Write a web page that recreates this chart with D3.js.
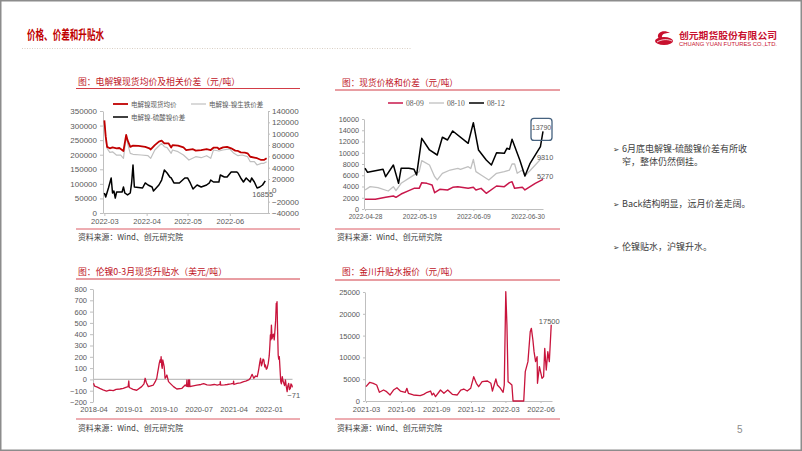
<!DOCTYPE html>
<html><head><meta charset="utf-8">
<script src="https://cdn.jsdelivr.net/npm/d3@7"></script>
<style>html,body{margin:0;padding:0;background:#fff;}svg{display:block;}</style>
</head><body>
<svg id="s" width="802" height="451"></svg>
<script>
// ---------- DATA ----------
// Chart 1: 电解镍现货均价及相关价差（元/吨）
const c1Legend = ["电解镍现货均价", "电解镍-镍生铁价差", "电解镍-硫酸镍价差"];
const c1XTicks = ["2022-03-01","2022-04-01","2022-05-01","2022-06-01"];
const c1LeftTicks = [0,50000,100000,150000,200000,250000,300000,350000];
const c1RightTicks = [-40000,-20000,0,20000,40000,60000,80000,100000,120000,140000];
const c1Price = [["2022-03-01",318000],["2022-03-02",262000],["2022-03-03",227000],["2022-03-05",222000],["2022-03-07",225000],["2022-03-10",222000],["2022-03-12",223000],["2022-03-15",213000],["2022-03-17",268000],["2022-03-18",250000],["2022-03-20",227000],["2022-03-22",231000],["2022-03-26",230000],["2022-03-31",227000],["2022-04-03",222000],["2022-04-04",218000],["2022-04-07",233000],["2022-04-10",245000],["2022-04-12",248000],["2022-04-14",239000],["2022-04-17",239000],["2022-04-19",225000],["2022-04-20",233000],["2022-04-24",231000],["2022-04-28",225000],["2022-04-30",216000],["2022-05-05",219000],["2022-05-07",214000],["2022-05-11",216000],["2022-05-15",219000],["2022-05-18",216000],["2022-05-20",224000],["2022-05-23",224000],["2022-05-24",219000],["2022-05-27",225000],["2022-05-30",227000],["2022-06-02",222000],["2022-06-05",214000],["2022-06-07",213000],["2022-06-09",208000],["2022-06-12",207000],["2022-06-14",205000],["2022-06-16",193000],["2022-06-19",190000],["2022-06-21",188000],["2022-06-24",182000],["2022-06-26",182000],["2022-06-28",188000]];
const c1Npi = [["2022-03-01",121000],["2022-03-02",92000],["2022-03-03",74000],["2022-03-05",67000],["2022-03-07",68000],["2022-03-10",62000],["2022-03-13",62000],["2022-03-15",56500],["2022-03-17",94600],["2022-03-18",83000],["2022-03-20",65300],["2022-03-22",63600],["2022-03-28",62400],["2022-04-02",61100],["2022-04-04",56500],["2022-04-07",71200],["2022-04-12",83000],["2022-04-14",77000],["2022-04-16",75300],["2022-04-19",65300],["2022-04-20",71200],["2022-04-24",68200],["2022-04-28",62400],["2022-05-02",53500],["2022-05-07",59400],["2022-05-11",57600],["2022-05-15",61100],["2022-05-18",56500],["2022-05-20",71200],["2022-05-24",69400],["2022-05-27",71200],["2022-06-01",73000],["2022-06-04",65300],["2022-06-07",61100],["2022-06-10",62400],["2022-06-14",59400],["2022-06-16",50500],["2022-06-19",50500],["2022-06-21",44700],["2022-06-24",47600],["2022-06-26",47600],["2022-06-28",50500]];
const c1Sul = [["2022-03-01",-4700],["2022-03-02",-11800],["2022-03-04",4100],["2022-03-06",21800],["2022-03-07",-4700],["2022-03-08",-1200],["2022-03-09",-13500],["2022-03-10",-2900],["2022-03-14",-2900],["2022-03-15",5900],["2022-03-16",-4700],["2022-03-18",-8200],["2022-03-20",-4700],["2022-03-21",13000],["2022-03-22",44700],["2022-03-23",5900],["2022-03-29",4100],["2022-03-31",13000],["2022-04-02",9400],["2022-04-05",5900],["2022-04-06",-1200],["2022-04-10",9400],["2022-04-12",18200],["2022-04-14",35900],["2022-04-16",30600],["2022-04-18",23500],["2022-04-19",21800],["2022-04-21",13000],["2022-04-25",13000],["2022-04-29",21800],["2022-05-01",21800],["2022-05-03",13000],["2022-05-05",2400],["2022-05-08",9400],["2022-05-11",5900],["2022-05-15",9400],["2022-05-17",13000],["2022-05-18",18200],["2022-05-20",14700],["2022-05-24",14700],["2022-05-25",27000],["2022-05-28",23500],["2022-05-30",23500],["2022-06-02",32400],["2022-06-06",32400],["2022-06-07",30600],["2022-06-09",21800],["2022-06-11",14700],["2022-06-13",21800],["2022-06-16",14700],["2022-06-17",21800],["2022-06-19",14700],["2022-06-21",4100],["2022-06-23",5900],["2022-06-25",9400],["2022-06-27",16855]];

// Chart 2: 现货价格和价差（元/吨）
const c2Legend = ["08-09","08-10","08-12"];
const c2XTicks = ["2022-04-28","2022-05-19","2022-06-09","2022-06-30"];
const c2YTicks = [0,2000,4000,6000,8000,10000,12000,14000,16000];
const c2S0809 = [["2022-04-28",1720],["2022-05-02",1720],["2022-05-06",2070],["2022-05-09",2310],["2022-05-10",2070],["2022-05-12",2660],["2022-05-15",3260],["2022-05-17",3670],["2022-05-19",3670],["2022-05-20",4680],["2022-05-22",4560],["2022-05-24",4270],["2022-05-25",2900],["2022-05-27",3500],["2022-05-30",3380],["2022-06-01",3850],["2022-06-03",3970],["2022-06-07",3670],["2022-06-09",3850],["2022-06-10",3380],["2022-06-12",3670],["2022-06-14",2790],["2022-06-18",4090],["2022-06-21",3970],["2022-06-23",4680],["2022-06-24",4860],["2022-06-25",3670],["2022-06-28",3850],["2022-06-29",3380],["2022-07-03",4560],["2022-07-06",5270]];
const c2S0810 = [["2022-04-28",3380],["2022-04-30",3970],["2022-05-03",3790],["2022-05-07",3200],["2022-05-09",3970],["2022-05-10",3260],["2022-05-12",4570],["2022-05-16",5750],["2022-05-19",6640],["2022-05-20",8590],["2022-05-23",7820],["2022-05-25",5750],["2022-05-26",5160],["2022-05-28",6350],["2022-05-31",6930],["2022-06-03",7230],["2022-06-04",7050],["2022-06-07",7520],["2022-06-08",7200],["2022-06-09",8830],["2022-06-10",6640],["2022-06-12",6040],["2022-06-15",5160],["2022-06-18",6350],["2022-06-21",6640],["2022-06-23",6930],["2022-06-24",8000],["2022-06-25",8000],["2022-06-26",6350],["2022-06-28",6930],["2022-06-29",5870],["2022-07-03",7820],["2022-07-06",9310]];
const c2S0812 = [["2022-04-28",7240],["2022-04-29",6520],["2022-05-05",7050],["2022-05-06",5750],["2022-05-09",7820],["2022-05-11",4560],["2022-05-12",7230],["2022-05-15",7230],["2022-05-17",7050],["2022-05-18",6040],["2022-05-20",12570],["2022-05-23",10490],["2022-05-26",9600],["2022-05-28",12750],["2022-05-30",12270],["2022-06-01",13870],["2022-06-07",11680],["2022-06-09",15350],["2022-06-11",10490],["2022-06-14",8710],["2022-06-16",7820],["2022-06-18",10010],["2022-06-21",9900],["2022-06-22",10790],["2022-06-23",10610],["2022-06-24",12390],["2022-06-27",8710],["2022-06-29",5870],["2022-07-01",8120],["2022-07-05",11080],["2022-07-06",13790]];

// Chart 3: 伦镍0-3月现货升贴水（美元/吨）
const c3XTicks = ["2018-04-01","2019-01-01","2019-10-01","2020-07-01","2021-04-01","2022-01-01"];
const c3YTicks = [-200,-100,0,100,200,300,400,500,600,700,800];
const c3Spread = [["2018-04-01",-35],["2018-04-10",-60],["2018-05-01",-68],["2018-05-20",-79],["2018-06-15",-92],["2018-07-12",-103],["2018-08-05",-95],["2018-09-03",-100],["2018-09-25",-88],["2018-10-25",-85],["2018-11-20",-80],["2018-12-10",-70],["2018-12-28",-64],["2019-01-02",-14],["2019-01-06",-72],["2019-02-05",-88],["2019-03-05",-96],["2019-04-13",-64],["2019-05-01",-40],["2019-05-10",10],["2019-05-20",-30],["2019-06-04",-64],["2019-07-13",-50],["2019-07-28",-20],["2019-08-09",10],["2019-08-16",60],["2019-08-22",98],["2019-08-28",140],["2019-09-04",172],["2019-09-09",150],["2019-09-12",201],["2019-09-17",120],["2019-09-21",98],["2019-09-25",172],["2019-10-01",140],["2019-10-06",113],["2019-10-13",10],["2019-10-20",20],["2019-10-27",39],["2019-11-09",-20],["2019-11-22",-35],["2019-12-18",-64],["2020-01-13",-85],["2020-02-22",-79],["2020-03-18",-50],["2020-03-28",-60],["2020-04-01",-5],["2020-04-03",-62],["2020-04-12",-64],["2020-04-14",-5],["2020-04-16",-62],["2020-04-22",-5],["2020-04-24",-64],["2020-05-10",-60],["2020-06-18",-50],["2020-07-20",-45],["2020-08-10",-38],["2020-09-05",-48],["2020-10-01",-50],["2020-11-01",-45],["2020-11-24",-50],["2020-12-16",-45],["2020-12-18",-20],["2020-12-21",-50],["2021-01-20",-48],["2021-02-10",-45],["2021-03-10",-40],["2021-03-30",-35],["2021-04-01",-15],["2021-04-04",-45],["2021-04-28",-35],["2021-05-25",-30],["2021-06-19",-20],["2021-07-05",-15],["2021-07-28",-5],["2021-08-10",10],["2021-08-24",45],["2021-09-06",10],["2021-09-20",30],["2021-10-03",24],["2021-10-10",60],["2021-10-16",98],["2021-10-23",150],["2021-10-29",187],["2021-11-05",120],["2021-11-11",142],["2021-11-17",180],["2021-11-24",172],["2021-12-01",110],["2021-12-06",128],["2021-12-13",90],["2021-12-19",98],["2021-12-28",140],["2022-01-05",210],["2022-01-10",300],["2022-01-14",393],["2022-01-18",350],["2022-01-22",481],["2022-01-27",360],["2022-02-02",393],["2022-02-08",400],["2022-02-13",350],["2022-02-18",422],["2022-02-24",520],["2022-03-01",673],["2022-03-04",600],["2022-03-07",688],["2022-03-11",450],["2022-03-16",216],["2022-03-20",180],["2022-03-25",201],["2022-03-30",100],["2022-04-05",-20],["2022-04-10",-40],["2022-04-17",24],["2022-04-22",-10],["2022-04-29",-35],["2022-05-05",-55],["2022-05-12",-5],["2022-05-18",-60],["2022-05-25",-109],["2022-05-30",-60],["2022-06-06",-35],["2022-06-12",-90],["2022-06-19",-79],["2022-06-24",-40],["2022-07-01",-50],["2022-07-05",-71]];

// Chart 4: 金川升贴水报价（元/吨）
const c4XTicks = ["2021-03-01","2021-06-01","2021-09-01","2021-12-01","2022-03-01","2022-06-01"];
const c4YTicks = [0,5000,10000,15000,20000,25000];
const c4Premium = [["2021-03-01",3280],["2021-03-11",4290],["2021-03-20",4060],["2021-03-29",3670],["2021-04-05",2000],["2021-04-16",2520],["2021-04-24",2140],["2021-05-03",1380],["2021-05-12",2520],["2021-05-21",3050],["2021-05-30",2290],["2021-06-12",2000],["2021-06-16",2910],["2021-06-20",1770],["2021-07-03",1380],["2021-07-21",1220],["2021-07-30",1530],["2021-08-08",2000],["2021-08-17",2290],["2021-08-21",1380],["2021-08-25",1770],["2021-08-30",990],["2021-09-12",2520],["2021-09-21",1770],["2021-10-01",2520],["2021-10-13",1530],["2021-10-26",1380],["2021-11-04",2520],["2021-11-12",2750],["2021-11-21",2290],["2021-11-30",2910],["2021-12-08",5580],["2021-12-15",4060],["2021-12-21",3280],["2021-12-30",4430],["2022-01-13",4590],["2022-01-22",4060],["2022-01-26",2290],["2022-02-04",5050],["2022-02-08",3670],["2022-02-16",2910],["2022-02-23",2000],["2022-02-26",3670],["2022-03-02",25070],["2022-03-05",17430],["2022-03-08",4430],["2022-03-13",4060],["2022-03-18",3670],["2022-03-21",0],["2022-04-18",0],["2022-04-22",6720],["2022-04-29",9020],["2022-05-05",15900],["2022-05-08",16670],["2022-05-12",14000],["2022-05-15",11310],["2022-05-19",9020],["2022-05-23",10160],["2022-05-24",4060],["2022-05-29",7870],["2022-06-05",5200],["2022-06-09",5580],["2022-06-12",12090],["2022-06-16",7110],["2022-06-20",11310],["2022-06-24",9020],["2022-06-29",17500]];

const bullets = [["6月底电解镍-硫酸镍价差有所收","窄，整体仍然倒挂。"],["Back结构明显，远月价差走阔。"],["伦镍贴水，沪镍升水。"]];

// ---------- DRAW ----------
const parse = d3.timeParse("%Y-%m-%d");
const svg = d3.select("#s");
const CJK = "'Noto Sans CJK SC','Noto Sans',sans-serif";
const NUM = "'Liberation Sans',Arial,sans-serif";
const SERIF = "'Liberation Serif','Times New Roman',serif";
const AX = "#bfbfbf", LBL = "#595959", RED = "#C00000", CRIMSON = "#C8143C";

svg.append("rect").attr("x",0.75).attr("y",0.75).attr("width",800.5).attr("height",449.5)
  .attr("fill","#fff").attr("stroke","#8c8c8c").attr("stroke-width",1.5);

// header
svg.append("text").attr("x",27).attr("y",38.5).text("价格、价差和升贴水")
  .attr("font-family",CJK).attr("font-weight","bold").attr("font-size",13).attr("fill",RED)
  .attr("textLength",77).attr("lengthAdjust","spacingAndGlyphs");
svg.append("line").attr("x1",22).attr("x2",412).attr("y1",48.5).attr("y2",48.5)
  .attr("stroke","#d9cfc4").attr("stroke-width",1).attr("stroke-dasharray","1,1.5");

// logo
const logo = svg.append("g");
logo.append("ellipse").attr("cx",664).attr("cy",41).attr("rx",9).attr("ry",4).attr("fill","#C8102E");
logo.append("path").attr("d","M670,33 C664,29 657,32 658,37 C659,41 666,42 670,38 C667,40 661,39 662,36 C663,33 667,33 670,33 Z").attr("fill","#C8102E");
logo.append("path").attr("d","M657,42 C662,39 668,39 672,41").attr("stroke","#fff").attr("stroke-width",0.8).attr("fill","none");
logo.append("text").attr("x",679).attr("y",39).text("创元期货股份有限公司")
  .attr("font-family",CJK).attr("font-weight","bold").attr("font-size",9).attr("fill","#C8102E")
  .attr("textLength",98).attr("lengthAdjust","spacingAndGlyphs");
logo.append("text").attr("x",679).attr("y",46).text("CHUANG YUAN FUTURES CO.,LTD.")
  .attr("font-family",NUM).attr("font-size",4.6).attr("fill","#C8102E")
  .attr("textLength",98).attr("lengthAdjust","spacingAndGlyphs");

function frame(x0, x1, titleX, titleY, lineY, title, titleW, botY, srcX, srcY) {
  svg.append("text").attr("x",titleX).attr("y",titleY).text(title)
    .attr("font-family",CJK).attr("font-size",9).attr("fill","#C0141E")
    .attr("textLength",titleW).attr("lengthAdjust","spacingAndGlyphs");
  svg.append("line").attr("x1",x0).attr("x2",x1).attr("y1",lineY).attr("y2",lineY).attr("stroke","#D23C46").attr("stroke-width",1);
  svg.append("line").attr("x1",x0).attr("x2",x1).attr("y1",botY).attr("y2",botY).attr("stroke","#DC5A64").attr("stroke-width",1);
  svg.append("text").attr("x",srcX).attr("y",srcY).text("资料来源：Wind、创元研究院")
    .attr("font-family",CJK).attr("font-size",8).attr("fill","#404040")
    .attr("textLength",105).attr("lengthAdjust","spacingAndGlyphs");
}
function styleAxis(g, fs) {
  g.selectAll("path.domain").attr("stroke",AX);
  g.selectAll(".tick line").attr("stroke",AX);
  g.selectAll(".tick text").attr("fill",LBL).attr("font-size",fs).attr("font-family",NUM);
}
function drawLine(data, x, y, color, w) {
  svg.append("path").datum(data).attr("fill","none").attr("stroke",color).attr("stroke-width",w)
    .attr("stroke-linejoin","round")
    .attr("d", d3.line().x(d=>x(parse(d[0]))).y(d=>y(d[1])));
}
function legendItem(x, y, color, w, label, fs, font) {
  svg.append("line").attr("x1",x).attr("x2",x+15).attr("y1",y).attr("y2",y).attr("stroke",color).attr("stroke-width",w);
  svg.append("text").attr("x",x+18).attr("y",y+2.5).text(label).attr("font-family",font).attr("font-size",fs).attr("fill",LBL);
}
function lbl(x, y, t, anchor) {
  return svg.append("text").attr("x",x).attr("y",y).text(t).attr("font-family",NUM).attr("font-size",7.5)
    .attr("fill",LBL).attr("text-anchor",anchor||"start");
}
const fmt = d3.format("d");

// ---- Chart 1 ----
frame(76,300,78,85,88.5,"图：电解镍现货均价及相关价差（元/吨）",162,229,78,240);
const c1X = d3.scaleTime().domain([parse("2022-02-28"),parse("2022-06-29")]).range([103,268]);
const c1YL = d3.scaleLinear().domain([0,350000]).range([213,111]);
const c1YR = d3.scaleLinear().domain([-40000,140000]).range([213,111]);
styleAxis(svg.append("g").attr("transform","translate(103,0)")
  .call(d3.axisLeft(c1YL).tickValues(c1LeftTicks).tickFormat(fmt).tickSize(3).tickPadding(3).tickSizeOuter(0)),8);
styleAxis(svg.append("g").attr("transform","translate(268,0)")
  .call(d3.axisRight(c1YR).tickValues(c1RightTicks).tickFormat(fmt).tickSize(2).tickPadding(2).tickSizeOuter(0)),8);
styleAxis(svg.append("g").attr("transform","translate(0,213)")
  .call(d3.axisBottom(c1X).tickValues(c1XTicks.map(parse)).tickFormat(d3.timeFormat("%Y-%m")).tickSize(3).tickPadding(3).tickSizeOuter(0)),7.5);
drawLine(c1Npi, c1X, c1YR, "#c0c0c0", 1.2);
drawLine(c1Price, c1X, c1YL, RED, 1.8);
drawLine(c1Sul, c1X, c1YR, "#000", 1.5);
legendItem(113,104,RED,1.8,c1Legend[0],6.5,CJK);
legendItem(191,104,"#c0c0c0",1.2,c1Legend[1],6.5,CJK);
legendItem(113,117,"#000",1.5,c1Legend[2],6.5,CJK);
{ const l = c1Sul[c1Sul.length-1]; lbl(c1X(parse(l[0]))-13, c1YR(l[1])+16, fmt(l[1])); }

// ---- Chart 2 ----
frame(335,560,342,86,90,"图：现货价格和价差（元/吨）",116,229,337,240);
const c2X = d3.scaleTime().domain([parse("2022-04-28"),parse("2022-07-06")]).range([365,543]);
const c2Y = d3.scaleLinear().domain([0,16000]).range([209,119]);
styleAxis(svg.append("g").attr("transform","translate(364,0)")
  .call(d3.axisLeft(c2Y).tickValues(c2YTicks).tickFormat(fmt).tickSize(2).tickPadding(3).tickSizeOuter(0)),7.3);
styleAxis(svg.append("g").attr("transform","translate(0,209)")
  .call(d3.axisBottom(c2X).tickValues(c2XTicks.map(parse)).tickFormat(d3.timeFormat("%Y-%m-%d")).tickSize(2).tickPadding(3).tickSizeOuter(0)),6.6);
drawLine(c2S0810, c2X, c2Y, "#c0c0c0", 1.3);
drawLine(c2S0809, c2X, c2Y, "#C8174B", 1.5);
drawLine(c2S0812, c2X, c2Y, "#000", 1.5);
legendItem(388,103,"#C8174B",1.5,c2Legend[0],7.6,SERIF);
legendItem(429,103,"#c0c0c0",1.3,c2Legend[1],7.6,SERIF);
legendItem(469,103,"#000",1.5,c2Legend[2],7.6,SERIF);
{
  const b = c2S0812[c2S0812.length-1], g = c2S0810[c2S0810.length-1], r = c2S0809[c2S0809.length-1];
  const bx = c2X(parse(b[0])), by = c2Y(b[1]);
  svg.append("rect").attr("x",bx-12).attr("y",by-13).attr("width",21).attr("height",22).attr("rx",3)
    .attr("fill","none").attr("stroke","#46627F").attr("stroke-width",1.3);
  lbl(bx-1.5, by-1, fmt(b[1]), "middle").attr("font-size",7);
  lbl(c2X(parse(g[0]))-6, c2Y(g[1])+3, fmt(g[1])).attr("font-size",7.3);
  lbl(c2X(parse(r[0]))-6, c2Y(r[1])-0.5, fmt(r[1])).attr("font-size",7.3);
}

// ---- Chart 3 ----
frame(76,300,78,275,279,"图：伦镍0-3月现货升贴水（美元/吨）",149,419,78,431);
const c3X = d3.scaleTime().domain([parse("2018-04-01"),parse("2022-07-06")]).range([93.5,292.5]);
const c3Y = d3.scaleLinear().domain([-200,800]).range([402,289]);
styleAxis(svg.append("g").attr("transform","translate(93,0)")
  .call(d3.axisLeft(c3Y).tickValues(c3YTicks).tickFormat(fmt).tickSize(3).tickPadding(3).tickSizeOuter(0)),7.5);
{
  const g = svg.append("g").attr("transform","translate(0,402)")
    .call(d3.axisBottom(c3X).tickValues(c3XTicks.map(parse)).tickFormat(d3.timeFormat("%Y-%m")).tickSize(0).tickPadding(5));
  styleAxis(g,7.5); g.select("path.domain").remove();
}
svg.append("line").attr("x1",93).attr("x2",292.5).attr("y1",c3Y(0)).attr("y2",c3Y(0)).attr("stroke",AX).attr("stroke-width",1.2);
drawLine(c3Spread, c3X, c3Y, CRIMSON, 1.3);
{ const l = c3Spread[c3Spread.length-1]; lbl(c3X(parse(l[0]))-5, c3Y(l[1])+11, fmt(l[1])); }

// ---- Chart 4 ----
frame(335,560,342,275,280,"图：金川升贴水报价（元/吨）",116,419,337,431);
const c4X = d3.scaleTime().domain([parse("2021-03-01"),parse("2022-07-01")]).range([366,552]);
const c4Y = d3.scaleLinear().domain([0,25000]).range([401,292]);
styleAxis(svg.append("g").attr("transform","translate(365,0)")
  .call(d3.axisLeft(c4Y).tickValues(c4YTicks).tickFormat(fmt).tickSize(2).tickPadding(3).tickSizeOuter(0)),7.5);
styleAxis(svg.append("g").attr("transform","translate(0,401)")
  .call(d3.axisBottom(c4X).tickValues(c4XTicks.map(parse)).tickFormat(d3.timeFormat("%Y-%m")).tickSize(2).tickPadding(4).tickSizeOuter(0)),7.5);
drawLine(c4Premium, c4X, c4Y, CRIMSON, 1.3);
{ const l = c4Premium[c4Premium.length-1]; lbl(c4X(parse(l[0]))-2, c4Y(l[1])-1, fmt(l[1]), "middle"); }

// ---- bullets ----
{
  const ys = [148.5, 204, 247];
  bullets.forEach((lines, i) => {
    svg.append("text").attr("x",613).attr("y",ys[i]+3).text("➢")
      .attr("font-family","'DejaVu Sans',sans-serif").attr("font-size",7.5).attr("fill","#262626");
    lines.forEach((s, j) => {
      svg.append("text").attr("x",622).attr("y",ys[i]+3.3+j*13.2).text(s)
        .attr("font-family",CJK).attr("font-size",9).attr("fill","#404040");
    });
  });
}
svg.append("text").attr("x",737).attr("y",433).text("5").attr("font-family",NUM).attr("font-size",10).attr("fill","#8c8c8c");
</script></body></html>
